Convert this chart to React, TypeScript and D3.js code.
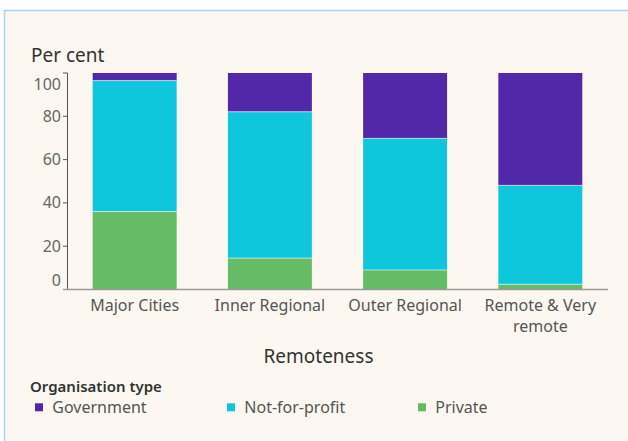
import React from "react";
import * as d3 from "d3";

const categories = ["Major Cities", "Inner Regional", "Outer Regional", "Remote & Very remote"];
const categoryLines = [["Major Cities"], ["Inner Regional"], ["Outer Regional"], ["Remote & Very", "remote"]];
const seriesNames = ["Private", "Not-for-profit", "Government"];
const privateVals = [36.0, 14.5, 9.0, 2.4];
const nfpVals = [60.5, 67.6, 60.8, 45.7];
const govVals = [3.5, 17.9, 30.2, 51.9];
const yTicks = [0, 20, 40, 60, 80, 100];
const legendOrder = ["Government", "Not-for-profit", "Private"];

const colors: Record<string, string> = {
  Government: "#5227a8",
  "Not-for-profit": "#0fc7dc",
  Private: "#65bb66",
};

const FONT = "'Noto Sans', 'Open Sans', sans-serif";

export default function App() {
  const W = 628, H = 441;
  const x = d3.scaleBand<string>().domain(categories).range([67, 608]).paddingInner(0.379).paddingOuter(0.19);
  const y = d3.scaleLinear().domain([0, 100]).range([289.5, 73]);

  const rows = categories.map((c, i) => ({
    cat: c,
    Private: privateVals[i],
    "Not-for-profit": nfpVals[i],
    Government: govVals[i],
  }));
  const stack = d3.stack<any>().keys(seriesNames)(rows);

  const legendX = [35, 227, 418];

  return (
    <div style={{ position: "absolute", left: 0, top: 0 }}>
      <svg width={W} height={H} style={{ display: "block" }} fontFamily={FONT}>
        <rect x={0} y={0} width={W} height={H} fill="#ffffff" />
        <rect x={4.5} y={10.5} width={W + 20} height={H + 20} fill="#fcf8f1" stroke="#a6d4f4" strokeWidth={1.5} />
        <text x={31} y={61.5} fontSize={19} fill="#333">Per cent</text>

        {stack.map((s) => (
          <g key={s.key}>
            {s.map((d, i) => (
              <rect
                key={i}
                x={x(categories[i])}
                y={y(d[1])}
                width={x.bandwidth()}
                height={y(d[0]) - y(d[1])}
                fill={colors[s.key]}
              />
            ))}
          </g>
        ))}
        {stack.slice(0, -1).map((s) => (
          <g key={"sep" + s.key}>
            {s.map((d, i) => (
              <line
                key={i}
                x1={x(categories[i])}
                x2={(x(categories[i]) as number) + x.bandwidth()}
                y1={y(d[1])}
                y2={y(d[1])}
                stroke="#ffffff"
                strokeOpacity={0.6}
                strokeWidth={1}
              />
            ))}
          </g>
        ))}

        {/* y axis */}
        <line x1={67.5} x2={67.5} y1={y(100)} y2={y(0)} stroke="#555" strokeWidth={1} />
        {yTicks.map((t) => (
          <g key={t}>
            <line x1={63} x2={67.5} y1={y(t)} y2={y(t)} stroke="#555" strokeWidth={1} />
            <text
              x={61}
              y={y(t)}
              dy={t === 100 ? 17 : t === 0 ? -4 : 5.5}
              textAnchor="end"
              fontSize={16}
              fill="#666"
            >
              {t}
            </text>
          </g>
        ))}
        {/* x axis */}
        <line x1={63} x2={608} y1={y(0)} y2={y(0)} stroke="#9a9a9a" strokeWidth={1.5} />
        {categoryLines.map((lines, i) => (
          <text key={i} textAnchor="middle" fontSize={16} fill="#555">
            {lines.map((l, j) => (
              <tspan key={j} x={(x(categories[i]) as number) + x.bandwidth() / 2} y={310.7 + j * 21}>
                {l}
              </tspan>
            ))}
          </text>
        ))}
        <text x={318.5} y={362.7} textAnchor="middle" fontSize={19} fill="#333">Remoteness</text>

        {/* legend */}
        <text x={30} y={391.7} fontSize={15} fontWeight={600} fill="#333">Organisation type</text>
        {legendOrder.map((k, i) => (
          <g key={k}>
            <rect x={legendX[i]} y={403.3} width={8} height={8} fill={colors[k]} />
            <text x={legendX[i] + 17.3} y={413.3} fontSize={16} fill="#555">{k}</text>
          </g>
        ))}
      </svg>
    </div>
  );
}
